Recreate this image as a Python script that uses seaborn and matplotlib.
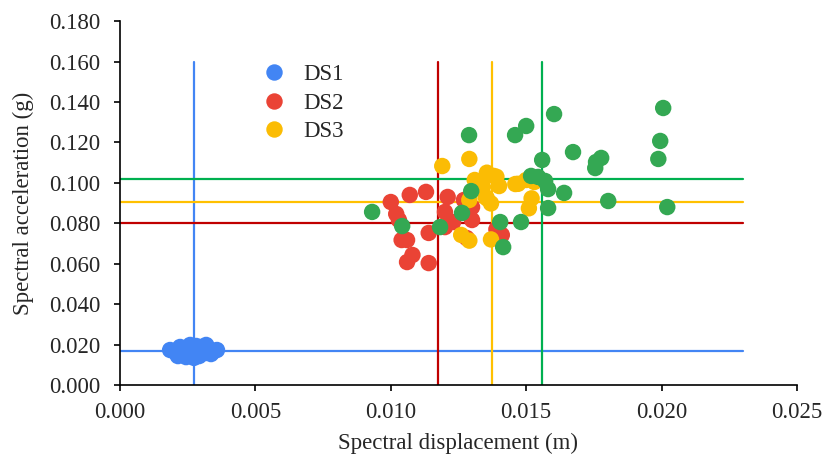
import numpy as np
import pandas as pd
import matplotlib
matplotlib.use("Agg")
import matplotlib.pyplot as plt
import seaborn as sns

# ---- data ----
ds1_x = [0.00185, 0.00207, 0.00222, 0.00236, 0.00251, 0.00266, 0.00281, 0.00292, 0.00303, 0.00314,
         0.00325, 0.00336, 0.00347, 0.00358, 0.00244, 0.00273, 0.00296, 0.00214, 0.00318, 0.00259]
ds1_y = [0.0173, 0.0158, 0.0188, 0.0148, 0.0178, 0.0163, 0.0193, 0.0143, 0.0173, 0.0158,
         0.0183, 0.0153, 0.0168, 0.0173, 0.0138, 0.0134, 0.0188, 0.0143, 0.0198, 0.0198]

ds2_x = [0.0100, 0.0102, 0.0103, 0.0104, 0.0106, 0.0107, 0.0108, 0.0106, 0.0113, 0.0114, 0.0114,
         0.0121, 0.0120, 0.0120, 0.0123, 0.0127, 0.0130, 0.0130, 0.0128, 0.0139, 0.0141]
ds2_y = [0.0905, 0.0846, 0.0816, 0.0717, 0.0717, 0.0940, 0.0643, 0.0608, 0.0955, 0.0752, 0.0603,
         0.0930, 0.0856, 0.0781, 0.0806, 0.0915, 0.0880, 0.0816, 0.0727, 0.0770, 0.0742]

ds3_x = [0.0119, 0.0129, 0.0131, 0.01355, 0.0138, 0.0134, 0.0140, 0.0146, 0.0150, 0.0129, 0.01355,
         0.0137, 0.0126, 0.0129, 0.0137, 0.0152, 0.0151, 0.0135, 0.0139, 0.0153, 0.0147]
ds3_y = [0.1083, 0.1118, 0.1014, 0.1050, 0.1034, 0.0980, 0.0984, 0.0994, 0.1014, 0.0915, 0.0923,
         0.0898, 0.0742, 0.0714, 0.0720, 0.0923, 0.0874, 0.0930, 0.1030, 0.1004, 0.0995]

ds4_x = [0.00931, 0.01042, 0.01182, 0.01263, 0.01289, 0.01297, 0.01404, 0.01415, 0.01459, 0.01500,
         0.01481, 0.01518, 0.01544, 0.01559, 0.01570, 0.01581, 0.01581, 0.01603, 0.01640, 0.01673,
         0.01758, 0.01755, 0.01777, 0.01803, 0.01988, 0.01995, 0.02006, 0.02021]
ds4_y = [0.0856, 0.0786, 0.0781, 0.0851, 0.1236, 0.0959, 0.0806, 0.0682, 0.1236, 0.1281,
         0.0806, 0.1034, 0.1029, 0.1113, 0.1009, 0.0969, 0.0875, 0.1340, 0.0950, 0.1152,
         0.1103, 0.1073, 0.1123, 0.0910, 0.1118, 0.1207, 0.1370, 0.0880]

states = ["DS1", "DS2", "DS3", "DS4"]
median_sd = [0.00275, 0.01175, 0.01375, 0.01560]
median_sa = [0.0170, 0.0800, 0.0905, 0.1020]

point_colors = ["#4285F4", "#EA4335", "#FBBC04", "#34A853"]
line_colors = ["#4285F4", "#C00000", "#FFC000", "#00B050"]

df = pd.concat([
    pd.DataFrame({"Sd": ds1_x, "Sa": ds1_y, "state": "DS1"}),
    pd.DataFrame({"Sd": ds2_x, "Sa": ds2_y, "state": "DS2"}),
    pd.DataFrame({"Sd": ds3_x, "Sa": ds3_y, "state": "DS3"}),
    pd.DataFrame({"Sd": ds4_x, "Sa": ds4_y, "state": "DS4"}),
], ignore_index=True)

# ---- style ----
sns.set_style("ticks")
plt.rcParams["font.family"] = ["Liberation Serif", "DejaVu Serif"]

fig = plt.figure(figsize=(8.25, 4.63), dpi=100)
ax = fig.add_axes([0.1455, 0.1685, 0.8205, 0.786])

# reference lines (behind points)
for sd, sa, c in zip(median_sd, median_sa, line_colors):
    ax.plot([sd, sd], [0, 0.16], color=c, lw=1.6, zorder=1)
    ax.plot([0, 0.023], [sa, sa], color=c, lw=1.6, zorder=1)

sns.scatterplot(data=df, x="Sd", y="Sa", hue="state", hue_order=states,
                palette=dict(zip(states, point_colors)), s=140, linewidth=0,
                alpha=1, ax=ax, zorder=3, legend=True)

handles, labels = ax.get_legend_handles_labels()
keep = [(h, l) for h, l in zip(handles, labels) if l in ("DS1", "DS2", "DS3")]
ax.legend([h for h, _ in keep], [l for _, l in keep], loc="upper left",
          bbox_to_anchor=(0.18, 0.938), frameon=False, fontsize=16.5,
          markerscale=1.0, handlelength=1.0, handletextpad=0.8, labelspacing=0.32)

ax.set_xlim(0, 0.025)
ax.set_ylim(0, 0.18)
ax.set_xticks(np.arange(0, 0.0251, 0.005))
ax.set_yticks(np.arange(0, 0.1801, 0.02))
ax.xaxis.set_major_formatter(matplotlib.ticker.FormatStrFormatter("%.3f"))
ax.yaxis.set_major_formatter(matplotlib.ticker.FormatStrFormatter("%.3f"))
ax.tick_params(axis="both", labelsize=16.5, length=4, width=1.2, color="black", direction="out")
ax.tick_params(axis="x", pad=8)
ax.tick_params(axis="y", pad=10)
for side in ("left", "bottom"):
    ax.spines[side].set_color("black")
    ax.spines[side].set_linewidth(1.2)
sns.despine(ax=ax)

ax.set_xlabel("Spectral displacement (m)", fontsize=16.5, labelpad=7)
ax.set_ylabel("Spectral acceleration (g)", fontsize=16.5, labelpad=11)

fig.savefig("out.png", dpi=100)
